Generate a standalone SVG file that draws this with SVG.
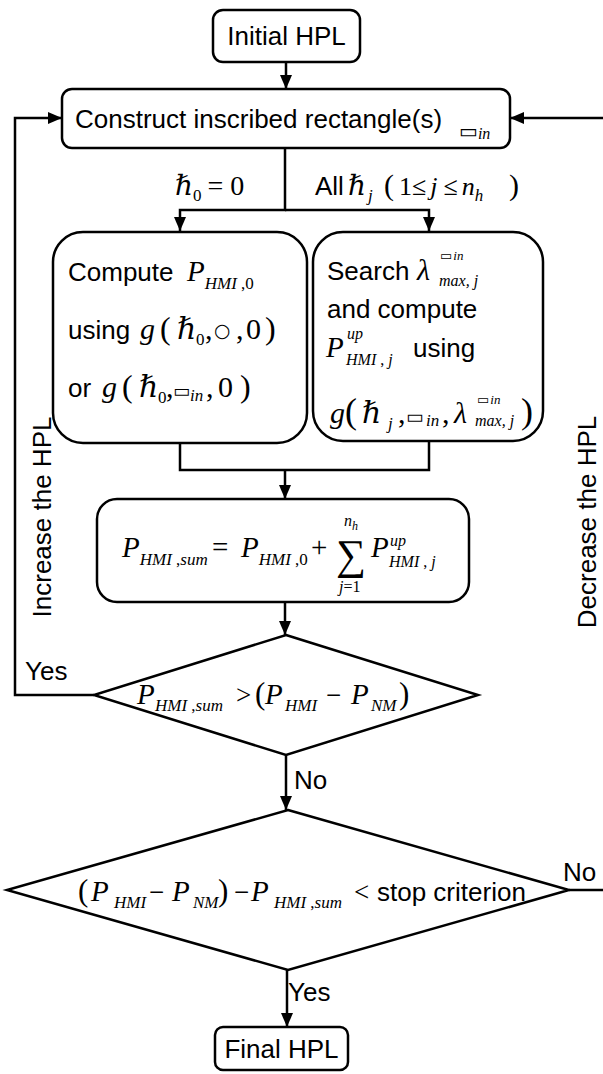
<svg xmlns="http://www.w3.org/2000/svg" width="603" height="1074" viewBox="0 0 603 1074">
<defs>
<style>
.box{fill:#fff;stroke:#000;stroke-width:2.5}
.ln{fill:none;stroke:#000;stroke-width:2.5}
.t{font-family:"Liberation Sans",Arial,sans-serif;font-size:26px;fill:#000}
.m{font-family:"Liberation Serif","DejaVu Serif","Times New Roman",serif;font-style:italic;fill:#000}
.u{font-style:normal}
.sym{font-family:"DejaVu Sans",sans-serif;font-style:normal}
</style>
<marker id="ah" viewBox="0 0 14 12" refX="14" refY="6" markerWidth="14" markerHeight="12" markerUnits="userSpaceOnUse" orient="auto">
<path d="M0,0 L14,6 L0,12 z" fill="#000"/>
</marker>
</defs>
<rect width="603" height="1074" fill="#fff"/>

<!-- connectors -->
<g id="connectors">
<path class="ln" d="M286,62 V89" marker-end="url(#ah)"/>
<path class="ln" d="M285,148 V210 H180 V231" marker-end="url(#ah)"/>
<path class="ln" d="M285,210 H429 V231" marker-end="url(#ah)"/>
<path class="ln" d="M180,443 V470 H429 V441"/>
<path class="ln" d="M285,470 V499" marker-end="url(#ah)"/>
<path class="ln" d="M285,602 V635" marker-end="url(#ah)"/>
<path class="ln" d="M286,755 V810" marker-end="url(#ah)"/>
<path class="ln" d="M287,970 V1027" marker-end="url(#ah)"/>
<path class="ln" d="M94,695 H15 V118 H62" marker-end="url(#ah)"/>
<path class="ln" d="M569,890 H604"/>
<path class="ln" d="M604,118 H510" marker-end="url(#ah)"/>
<!-- branch labels -->
<text class="m" x="175" y="195" font-size="28">ℏ<tspan class="u" font-size="17" dy="6">0</tspan><tspan class="u" dx="6" dy="-6">= 0</tspan></text>
<text x="315" y="195"><tspan class="t">All</tspan><tspan class="m" x="348" font-size="28">ℏ</tspan><tspan class="m" font-size="17" dy="6" dx="2">j</tspan><tspan class="m u" font-size="30" x="384" dy="-6">(</tspan><tspan class="m u" font-size="26" x="399">1≤</tspan><tspan class="m" font-size="26" dx="4">j</tspan><tspan class="m u" font-size="26" dx="6">≤</tspan><tspan class="m" font-size="26" dx="4">n</tspan><tspan class="m" font-size="17" dy="6">h</tspan><tspan class="m u" font-size="30" x="509" dy="-6">)</tspan></text>
<text class="t" x="25" y="680">Yes</text>
<text class="t" x="294" y="789">No</text>
<text class="t" x="288" y="1001">Yes</text>
<text class="t" x="563" y="881">No</text>
<text class="t" transform="translate(51,517) rotate(-90)" text-anchor="middle" font-size="29">Increase the HPL</text>
<text class="t" transform="translate(596,522) rotate(-90)" text-anchor="middle" font-size="29">Decrease the HPL</text>
</g>

<!-- start -->
<g id="initial">
<rect class="box" x="213" y="10" width="147" height="52" rx="10"/>
<text class="t" x="286.5" y="45" text-anchor="middle">Initial HPL</text>
</g>

<!-- inscribed rectangle construction -->
<g id="construct">
<rect class="box" x="62" y="89" width="448" height="59" rx="10"/>
<text class="t" x="75" y="128" font-size="25">Construct inscribed rectangle(s)</text>
<text class="m" x="459" y="138" font-size="20"><tspan class="sym">▭</tspan><tspan font-size="16" dy="1">in</tspan></text>
</g>

<!-- zero-fault hypothesis -->
<g id="compute-zero">
<rect class="box" x="53" y="232" width="254" height="211" rx="30"/>
<text class="t" x="68" y="281">Compute</text>
<text class="m" x="187" y="281" font-size="29">P<tspan font-size="17" dy="8">HMI<tspan class="u"> ,0</tspan></tspan></text>
<text class="t" x="68" y="339">using</text>
<text class="m" y="339" font-size="30"><tspan x="140">g</tspan><tspan class="u" font-size="32" x="160">(</tspan><tspan x="177">ℏ</tspan><tspan class="u" font-size="17" x="196" dy="6">0</tspan><tspan class="u" x="205" dy="-6">,</tspan><tspan class="sym" font-size="19" x="214" dy="-2">○</tspan><tspan class="u" x="236" dy="2">,</tspan><tspan class="u" x="246">0</tspan><tspan class="u" font-size="32" x="265">)</tspan></text>
<text class="t" x="68" y="397">or</text>
<text class="m" y="397" font-size="30"><tspan x="102">g</tspan><tspan class="u" font-size="32" x="122">(</tspan><tspan x="139">ℏ</tspan><tspan class="u" font-size="17" x="158" dy="6">0</tspan><tspan class="u" x="166" dy="-6">,</tspan><tspan class="sym" font-size="18" x="173">▭</tspan><tspan font-size="17" x="190" dy="4">in</tspan><tspan class="u" x="206" dy="-4">,</tspan><tspan class="u" x="218">0</tspan><tspan class="u" font-size="32" x="240">)</tspan></text>
</g>

<!-- fault hypotheses -->
<g id="compute-faults">
<rect class="box" x="313" y="232" width="230" height="209" rx="30"/>
<text class="t" x="327" y="280">Search</text>
<text class="m" x="417" y="280" font-size="30">λ</text>
<text class="m" x="440" y="260" font-size="13"><tspan class="sym">▭</tspan><tspan dx="1">in</tspan></text>
<text class="m" x="439" y="286" font-size="16">max, j</text>
<text class="t" x="327" y="318">and compute</text>
<text class="m" x="326" y="357" font-size="29">P</text>
<text class="m" x="347" y="339" font-size="16">up</text>
<text class="m" x="346" y="365" font-size="16">HMI<tspan class="u"> , </tspan>j</text>
<text class="t" x="413" y="357">using</text>
<text class="m" y="423" font-size="30"><tspan x="330">g</tspan><tspan class="u" font-size="36" x="345">(</tspan><tspan x="362">ℏ</tspan><tspan font-size="17" x="388" dy="6">j</tspan><tspan class="u" x="398" dy="-6">,</tspan><tspan class="sym" font-size="19" x="406">▭</tspan><tspan font-size="17" x="426" dy="3">in</tspan><tspan class="u" x="442" dy="-3">,</tspan><tspan x="454">λ</tspan><tspan class="u" font-size="36" x="521">)</tspan></text>
<text class="m" x="477" y="404" font-size="13"><tspan class="sym">▭</tspan><tspan dx="1">in</tspan></text>
<text class="m" x="475" y="426" font-size="16">max, j</text>
</g>

<!-- summation -->
<g id="sum">
<rect class="box" x="97" y="499" width="372" height="103" rx="20"/>
<text class="m" x="122" y="557" font-size="29">P<tspan font-size="17" dy="8">HMI<tspan class="u"> ,</tspan>sum</tspan></text>
<text class="m u" x="212" y="557" font-size="29">=</text>
<text class="m" x="241" y="557" font-size="29">P<tspan font-size="17" dy="8">HMI<tspan class="u"> ,0</tspan></tspan></text>
<text class="m u" x="311" y="557" font-size="29">+</text>
<text class="m u" x="336" y="569" font-size="42">∑</text>
<text class="m" x="344" y="526" font-size="16">n<tspan font-size="12" dy="4">h</tspan></text>
<text class="m" x="339" y="592" font-size="16">j<tspan class="u">=1</tspan></text>
<text class="m" x="371" y="557" font-size="29">P</text>
<text class="m" x="390" y="546" font-size="16">up</text>
<text class="m" x="389" y="567" font-size="16">HMI<tspan class="u"> , </tspan>j</text>
</g>

<!-- integrity check -->
<g id="check-risk">
<polygon class="box" points="286,635 478,695 286,755 94,695"/>
<text class="m" y="704" font-size="29"><tspan x="137">P</tspan><tspan font-size="17" x="155" dy="7">HMI<tspan class="u"> ,</tspan>sum</tspan><tspan class="u" font-size="27" x="236" dy="-7">&gt;</tspan><tspan class="u" font-size="31" x="255">(</tspan><tspan x="265">P</tspan><tspan font-size="17" x="285" dy="7">HMI</tspan><tspan class="u" font-size="27" x="326" dy="-7">−</tspan><tspan x="351">P</tspan><tspan font-size="17" x="371" dy="7">NM</tspan><tspan class="u" font-size="31" x="399" dy="-7">)</tspan></text>
</g>

<!-- stopping check -->
<g id="check-stop">
<polygon class="box" points="288,810 569,890 288,970 7,890"/>
<text class="m" y="901" font-size="29"><tspan class="u" font-size="31" x="78">(</tspan><tspan x="91">P</tspan><tspan font-size="17" x="114" dy="7">HMI</tspan><tspan class="u" font-size="27" x="149" dy="-7">−</tspan><tspan x="172">P</tspan><tspan font-size="17" x="193" dy="7">NM</tspan><tspan class="u" font-size="31" x="218" dy="-7">)</tspan><tspan class="u" font-size="27" x="234">−</tspan><tspan x="251">P</tspan><tspan font-size="17" x="274" dy="7">HMI<tspan class="u"> ,</tspan>sum</tspan><tspan class="u" font-size="27" x="354" dy="-7">&lt;</tspan></text>
<text class="t" x="377" y="901">stop criterion</text>
</g>

<!-- end -->
<g id="final">
<rect class="box" x="215" y="1027" width="133" height="43" rx="8"/>
<text class="t" x="281.5" y="1058" text-anchor="middle">Final HPL</text>
</g>
</svg>
